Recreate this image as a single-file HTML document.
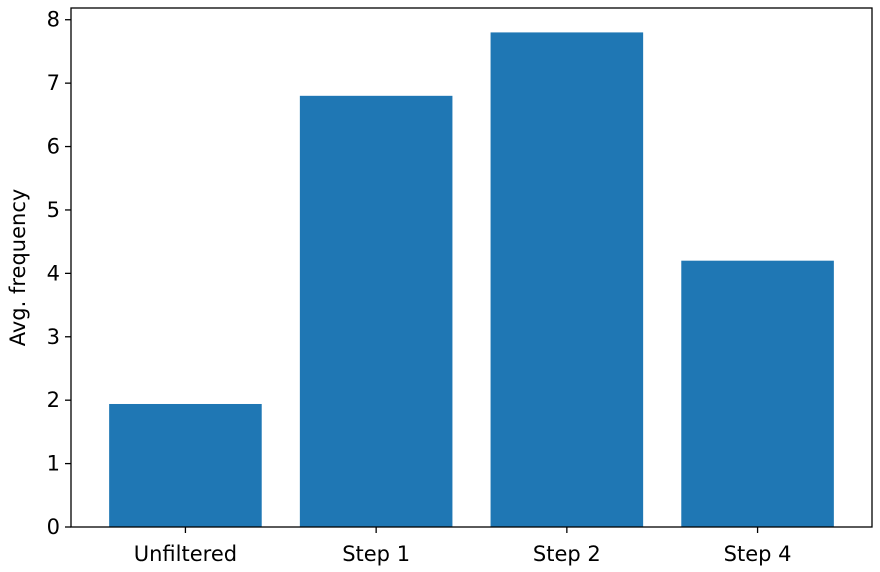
<!DOCTYPE html>
<html><head><meta charset="utf-8"><style>
html,body{margin:0;padding:0;background:#fff;}
svg{display:block;font-family:"DejaVu Sans","Liberation Sans",sans-serif;}
</style></head><body>
<svg id="chart" width="880" height="572"></svg>
<script>
const categories = ["Unfiltered", "Step 1", "Step 2", "Step 4"];
const values = [1.94, 6.8, 7.8, 4.2];
const yTicks = [0, 1, 2, 3, 4, 5, 6, 7, 8];

const NS = "http://www.w3.org/2000/svg";
const svg = document.getElementById("chart");
const L = 71, R = 872, T = 8, B = 527;
const yMin = 0, yMax = 8.185;
const xMin = -0.6, xMax = categories.length - 0.4;
const xs = v => L + (v - xMin) / (xMax - xMin) * (R - L);
const ys = v => B - (v - yMin) / (yMax - yMin) * (B - T);
function mk(tag, attrs) {
  const e = document.createElementNS(NS, tag);
  for (const k in attrs) e.setAttribute(k, attrs[k]);
  svg.appendChild(e);
  return e;
}
const bw = 0.8 * (xs(1) - xs(0));
values.forEach((v, i) => {
  const r = mk("rect", {x: xs(i) - bw / 2, y: ys(v), width: bw, height: ys(0) - ys(v), fill: "#1f77b4"});
  
  
});
const frame = mk("rect", {x: L, y: T, width: R - L, height: B - T, fill: "none", stroke: "#000", "stroke-width": 1.3});


yTicks.forEach(t => {
  const y = ys(t);
  const tk = mk("line", {x1: L - 6, x2: L, y1: y, y2: y, stroke: "#000", "stroke-width": 1.3});
  
  
  const lb = mk("text", {x: L - 11, y: y + 7, "text-anchor": "end", "font-size": 21, fill: "#000"});
  lb.textContent = t;
  
  
});
categories.forEach((c, i) => {
  const x = xs(i);
  const tk = mk("line", {x1: x, x2: x, y1: B, y2: B + 6, stroke: "#000", "stroke-width": 1.3});
  
  
  const lb = mk("text", {x: x, y: B + 34, "text-anchor": "middle", "font-size": 21, fill: "#000"});
  lb.textContent = c;
  
  
});
const yt = mk("text", {x: 0, y: 0, "text-anchor": "middle", "font-size": 21, fill: "#000", transform: "translate(25," + ((T + B) / 2) + ") rotate(-90)"});
yt.textContent = "Avg. frequency";


</script>
</body></html>
